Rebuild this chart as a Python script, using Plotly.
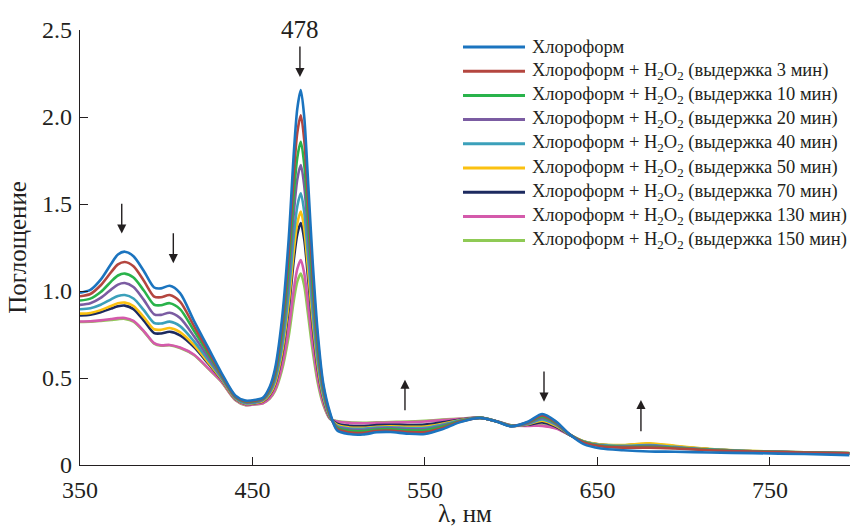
import plotly.graph_objects as go

wavelength = [350, 356, 362, 368, 372, 376, 381, 387, 393, 397, 402, 408, 416, 424, 432, 440, 446, 452,
              456, 460, 463, 467, 471, 474, 476, 478, 480, 482, 485, 488, 491, 495, 499, 506, 514, 522,
              530, 540, 550, 560, 570, 582, 592, 600, 610, 618, 626, 634, 642, 652, 665, 680, 695, 715,
              740, 770, 796]

chloroform = [.99, 1.006, 1.065, 1.155, 1.21, 1.226, 1.20, 1.115, 1.02, 1.015, 1.03, .988, .83, .68, .53, .40, .37, .375,
              .386, .45, .55, .83, 1.30, 1.80, 2.05, 2.155, 2.0, 1.67, 1.15, .74, .47, .30, .20, .178, .175, .188,
              .19, .18, .178, .205, .245, .27, .248, .222, .25, .293, .25, .175, .12, .095, .085, .078, .076, .072,
              .068, .063, .057]
min3 = [.97, .983, 1.033, 1.108, 1.153, 1.167, 1.142, 1.059, .968, .964, .977, .939, .80, .661, .522, .396, .366, .371,
        .382, .441, .533, .791, 1.224, 1.682, 1.912, 2.01, 1.867, 1.562, 1.081, .702, .455, .29, .208, .188, .185, .196,
        .198, .19, .189, .213, .248, .27, .248, .223, .247, .285, .245, .175, .13, .108, .10, .10, .095, .085,
        .077, .072, .067]
min10 = [.945, .956, .994, 1.054, 1.089, 1.10, 1.077, 1.003, .921, .918, .93, .896, .773, .645, .515, .393, .363, .368,
         .379, .433, .516, .751, 1.144, 1.56, 1.769, 1.858, 1.727, 1.449, 1.009, .662, .44, .285, .215, .197, .195, .204,
         .206, .20, .20, .221, .251, .271, .249, .224, .245, .278, .24, .175, .132, .11, .103, .105, .098, .087,
         .078, .072, .067]
min20 = [.92, .929, .96, 1.008, 1.037, 1.046, 1.023, .949, .866, .863, .875, .845, .741, .625, .507, .389, .359, .364,
         .376, .425, .501, .715, 1.073, 1.453, 1.643, 1.724, 1.604, 1.349, .945, .627, .425, .28, .22, .204, .201, .21,
         .212, .206, .207, .226, .253, .271, .249, .224, .24, .27, .235, .175, .133, .112, .106, .11, .10, .088,
         .078, .072, .067]
min40 = [.895, .901, .921, .952, .971, .977, .957, .89, .816, .813, .824, .798, .712, .607, .50, .385, .355, .36,
         .372, .415, .482, .671, .987, 1.322, 1.489, 1.561, 1.454, 1.227, .867, .585, .405, .275, .225, .21, .208, .215,
         .217, .213, .214, .232, .255, .271, .249, .225, .237, .262, .23, .175, .135, .115, .11, .115, .104, .09,
         .079, .073, .068]
min50 = [.87, .874, .89, .914, .929, .933, .914, .85, .78, .777, .787, .764, .691, .594, .494, .382, .352, .357,
         .367, .406, .467, .641, .93, 1.237, 1.39, 1.456, 1.358, 1.148, .818, .557, .392, .272, .23, .216, .214, .22,
         .222, .22, .221, .237, .257, .271, .249, .225, .235, .255, .225, .175, .137, .118, .115, .125, .11, .092,
         .08, .073, .068]
min70 = [.86, .864, .878, .899, .912, .916, .896, .83, .758, .756, .766, .745, .679, .587, .491, .381, .351, .356,
         .366, .403, .461, .624, .896, 1.184, 1.328, 1.39, 1.297, 1.099, .786, .54, .384, .27, .238, .226, .224, .229,
         .231, .23, .232, .245, .26, .272, .25, .226, .232, .245, .22, .172, .135, .116, .112, .12, .106, .09,
         .079, .072, .067]
min130 = [.825, .826, .831, .839, .844, .845, .828, .77, .70, .688, .69, .675, .635, .56, .48, .375, .345, .35,
          .355, .385, .431, .562, .781, 1.012, 1.128, 1.178, 1.102, .941, .686, .485, .357, .265, .25, .242, .24, .242,
          .244, .246, .25, .258, .265, .272, .25, .228, .225, .225, .21, .172, .133, .115, .11, .118, .105, .09,
          .079, .072, .067]
min150 = [.822, .823, .828, .834, .838, .84, .824, .767, .698, .686, .688, .672, .632, .557, .478, .374, .344, .349,
          .355, .382, .424, .542, .74, .95, 1.055, 1.10, 1.03, .882, .649, .464, .348, .265, .253, .245, .243, .245,
          .247, .249, .254, .261, .266, .272, .25, .228, .226, .228, .212, .172, .135, .117, .113, .122, .108, .092,
          .08, .073, .068]

series_names = [
    "Хлороформ",
    "Хлороформ + H<sub>2</sub>O<sub>2</sub> (выдержка 3 мин)",
    "Хлороформ + H<sub>2</sub>O<sub>2</sub> (выдержка 10 мин)",
    "Хлороформ + H<sub>2</sub>O<sub>2</sub> (выдержка 20 мин)",
    "Хлороформ + H<sub>2</sub>O<sub>2</sub> (выдержка 40 мин)",
    "Хлороформ + H<sub>2</sub>O<sub>2</sub> (выдержка 50 мин)",
    "Хлороформ + H<sub>2</sub>O<sub>2</sub> (выдержка 70 мин)",
    "Хлороформ + H<sub>2</sub>O<sub>2</sub> (выдержка 130 мин)",
    "Хлороформ + H<sub>2</sub>O<sub>2</sub> (выдержка 150 мин)",
]
series_values = [chloroform, min3, min10, min20, min40, min50, min70, min130, min150]
colors = ["#1b74bf", "#b4463f", "#29b34b", "#7b5ca2", "#3ba0ba", "#fbc111", "#1c2a5f", "#d45aab", "#8fca55"]

x_ticks = [350, 450, 550, 650, 750]
y_ticks = [0, 0.5, 1.0, 1.5, 2.0, 2.5]
y_tick_labels = ["0", "0.5", "1.0", "1.5", "2.0", "2.5"]

# arrows: (x_head, y_head, x_tail, y_tail)
arrows = [(374.2, 1.33, 374.2, 1.51), (404.1, 1.16, 404.1, 1.34), (538.4, 0.49, 538.4, 0.306),
          (619.0, 0.364, 619.0, 0.546), (675.2, 0.374, 675.2, 0.186), (477.5, 2.23, 477.5, 2.414)]

FONT = "Liberation Serif, Times New Roman, Times, serif"
TXT = "#231f20"
fig = go.Figure()

# draw later series first so the first (chloroform) curve lies on top
for name, vals, col in reversed(list(zip(series_names, series_values, colors))):
    fig.add_trace(go.Scatter(x=wavelength, y=vals, mode="lines", name=name,
                             line=dict(color=col, width=2.6, shape="spline", smoothing=0.8),
                             showlegend=False))

# custom legend (paper coords)
L_LEFT, P_W, P_H = 80, 770, 435
def px_x(px):
    return (px - L_LEFT) / P_W
def px_y(py):
    return (465 - py) / P_H

for i, (name, col) in enumerate(zip(series_names, colors)):
    yy = 47 + i * 24.2
    fig.add_shape(type="line", xref="paper", yref="paper", x0=px_x(463), x1=px_x(525),
                  y0=px_y(yy), y1=px_y(yy), line=dict(color=col, width=3))
    fig.add_annotation(xref="paper", yref="paper", x=px_x(530), y=px_y(yy), text=name,
                       showarrow=False, xanchor="left", yanchor="middle",
                       font=dict(family=FONT, size=18.5, color=TXT))

for (xh, yh, xt, yt) in arrows:
    fig.add_annotation(x=xh, y=yh, ax=xt, ay=yt, xref="x", yref="y", axref="x", ayref="y",
                       text="", showarrow=True, arrowhead=2, arrowsize=1.3, arrowwidth=1.4,
                       arrowcolor=TXT)

fig.add_annotation(x=477.5, y=2.414, xref="x", yref="y", text="478", showarrow=False,
                   yanchor="bottom", font=dict(family=FONT, size=25, color=TXT))

fig.update_layout(
    width=850, height=527,
    margin=dict(l=80, r=0, t=30, b=62),
    paper_bgcolor="white", plot_bgcolor="white",
    font=dict(family=FONT, size=25, color=TXT),
    showlegend=False,
)
fig.update_xaxes(range=[350, 796.4], tickvals=x_ticks, ticks="inside", ticklen=8, tickwidth=1,
                 tickcolor=TXT, showline=True, linecolor=TXT, linewidth=1.2,
                 showgrid=False, zeroline=False, ticklabelstandoff=3,
                 title=dict(text="λ, нм", font=dict(family=FONT, size=25), standoff=0),
                 tickfont=dict(family=FONT, size=24))
fig.update_yaxes(range=[0, 2.5], tickvals=y_ticks, ticktext=y_tick_labels, ticks="inside", ticklen=8,
                 tickwidth=1, tickcolor=TXT, showline=True, linecolor=TXT, linewidth=1.2,
                 showgrid=False, zeroline=False, ticklabelstandoff=2,
                 title=dict(text="Поглощение", font=dict(family=FONT, size=25), standoff=8),
                 tickfont=dict(family=FONT, size=24))

fig.write_html("out.html")
